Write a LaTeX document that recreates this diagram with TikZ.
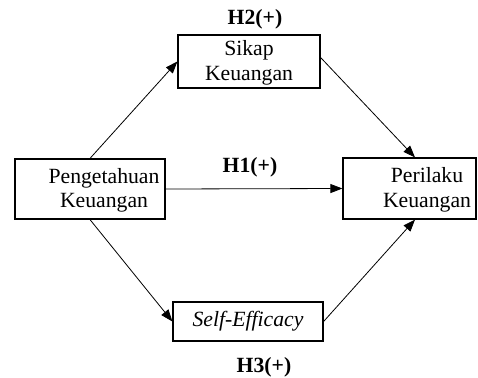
\documentclass[tikz,border=0pt]{standalone}
\usepackage{fontspec}
\setmainfont{Liberation Serif}
\usetikzlibrary{arrows.meta}
\begin{document}
\begin{tikzpicture}[x=1pt,y=-1pt,
  every node/.style={font=\fontsize{21.7}{24.5}\selectfont},
  box/.style={draw,line width=1.2pt,inner sep=0pt},
  txt/.style={align=center,inner sep=0pt},
  hyp/.style={font=\fontsize{21.7}{24.5}\selectfont\bfseries,anchor=base,inner sep=0pt},
  link/.style={line width=0.8pt,-{Triangle[length=12pt,width=9pt]}}]
\useasboundingbox (0,0) rectangle (478,377);
% boxes
\node[box,minimum width=150pt,minimum height=60pt] (pk) at (90,189) {};
\node[txt] (pkt) at (104,190.5) {Pengetahuan\\Keuangan};
\node[box,minimum width=142pt,minimum height=53pt] (sk) at (249,61.5) {};
\node[txt] (skt) at (249,63) {Sikap\\Keuangan};
\node[box,minimum width=133pt,minimum height=61pt] (pr) at (409.5,188.5) {};
\node[txt] (prt) at (427,190) {Perilaku\\Keuangan};
\node[box,minimum width=150pt,minimum height=39pt] (se) at (248,321.5) {\itshape Self-Efficacy};
% labels
\node[hyp] (h2) at (255,25) {H2(+)};
\node[hyp] (h1) at (250,172) {H1(+)};
\node[hyp] (h3) at (264,372) {H3(+)};
% connectors
\coordinate (prn) at ([xshift=5.5pt]pr.north);
\coordinate (prs) at ([xshift=5.5pt]pr.south);
\coordinate (ske) at ([yshift=4pt]sk.east);
\draw[link] (pk.north) -- (sk.west);
\draw[link] (ske) -- (prn);
\draw[link] (pk.east) -- (pr.west);
\draw[link] (pk.south) -- (se.west);
\draw[link] (se.east) -- (prs);
\end{tikzpicture}
\end{document}
